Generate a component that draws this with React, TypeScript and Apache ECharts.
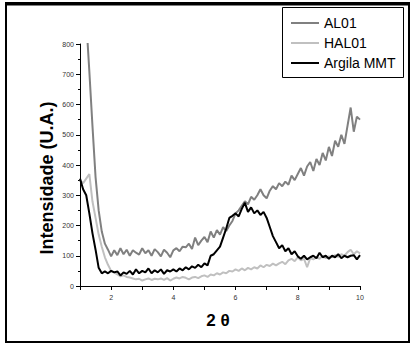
import React, { useEffect, useRef } from "react";
import * as echarts from "echarts";

const xValues = [
  1.0, 1.1, 1.2, 1.3, 1.4, 1.5, 1.6, 1.7, 1.8, 1.9,
  2.0, 2.1, 2.2, 2.3, 2.4, 2.5, 2.6, 2.7, 2.8, 2.9,
  3.0, 3.1, 3.2, 3.3, 3.4, 3.5, 3.6, 3.7, 3.8, 3.9,
  4.0, 4.1, 4.2, 4.3, 4.4, 4.5, 4.6, 4.7, 4.8, 4.9,
  5.0, 5.1, 5.2, 5.3, 5.4, 5.5, 5.6, 5.7, 5.8, 5.9,
  6.0, 6.1, 6.2, 6.3, 6.4, 6.5, 6.6, 6.7, 6.8, 6.9,
  7.0, 7.1, 7.2, 7.3, 7.4, 7.5, 7.6, 7.7, 7.8, 7.9,
  8.0, 8.1, 8.2, 8.3, 8.4, 8.5, 8.6, 8.7, 8.8, 8.9,
  9.0, 9.1, 9.2, 9.3, 9.4, 9.5, 9.6, 9.7, 9.8, 9.9,
  10.0,
];

const al01 = [
  1200, 1000, 880, 710, 530, 360, 250, 180, 140, 120,
  98, 118, 102, 125, 105, 120, 100, 118, 110, 104,
  125, 108, 118, 100, 122, 112, 98, 120, 110, 95,
  118, 125, 115, 130, 128, 140, 122, 160, 135, 150,
  162, 145, 180, 160, 185, 170, 195, 182, 200, 215,
  240, 250, 265, 280, 270, 295, 285, 300, 320, 300,
  290, 315, 330, 320, 340, 330, 345, 335, 365, 350,
  370, 390, 365, 395, 410, 380, 420, 400, 440, 415,
  460, 430, 480, 460, 500, 470, 530, 590, 510, 560,
  550,
];

const hal01 = [
  350, 340, 355, 370, 280, 225, 170, 130, 95, 70,
  50, 45, 38, 32, 35, 30, 28, 25, 22, 24,
  18, 22, 25, 20, 24, 22, 25, 20, 26, 18,
  24, 28, 25, 30, 27, 22, 28, 30, 26, 32,
  35, 30, 38, 35, 42, 38, 45, 42, 50, 48,
  55, 50, 58, 52, 60, 55, 62, 58, 68, 62,
  70, 66, 74, 68, 75, 80, 72, 85, 90, 82,
  95, 85, 90, 62, 92, 88, 96, 90, 100, 92,
  98, 95, 102, 96, 105, 100, 112, 120, 105, 115,
  108,
];

const argilaMMT = [
  355, 320, 300, 240, 175, 120, 60, 42, 48, 42,
  50, 45, 48, 35, 45, 40, 50, 38, 55, 42,
  50, 45, 58, 42, 52, 45, 55, 40, 52, 48,
  55, 48, 58, 52, 62, 55, 65, 60, 70, 62,
  75, 68, 100, 105, 118, 130, 160, 190, 225, 232,
  240, 230, 255, 275, 245, 260, 240, 250, 235, 245,
  225, 195, 165, 145, 125, 135, 115, 125, 105, 115,
  98, 90, 100, 88, 95, 100, 92, 110, 95, 100,
  90, 100, 95, 105, 92, 100, 95, 100, 102, 88,
  102,
];

const seriesNames = ["AL01", "HAL01", "Argila MMT"];
const seriesColors = ["#808080", "#c0c0c0", "#000000"];
const seriesValues = [al01, hal01, argilaMMT];

const yAxisTitle = "Intensidade (U.A.)";
const xAxisTitle = "2 θ";

export default function App() {
  const ref = useRef<HTMLDivElement>(null);

  useEffect(() => {
    document.body.style.margin = "0";
    if (!ref.current) return;
    const chart = echarts.init(ref.current, undefined, { renderer: "svg" });
    const font = "'Liberation Sans', Arial, sans-serif";
    chart.setOption({
      animation: false,
      backgroundColor: "#ffffff",
      grid: { left: 80, right: 53, top: 44, bottom: 58 },
      legend: {
        orient: "vertical",
        left: 291,
        top: 16,
        padding: 0,
        icon: "rect",
        itemWidth: 28,
        itemHeight: 2,
        itemGap: 6,
        data: seriesNames,
        textStyle: { fontFamily: font, fontSize: 14, lineHeight: 14, color: "#000" },
      },
      xAxis: {
        type: "value",
        min: 1,
        max: 10,
        interval: 1,
        axisLine: { lineStyle: { color: "#000", width: 1 } },
        axisTick: { show: true, length: 4, lineStyle: { color: "#000" } },
        splitLine: { show: false },
        axisLabel: {
          fontFamily: font,
          fontSize: 7,
          color: "#333",
          margin: 8,
          formatter: (v: number) => (v % 2 === 0 ? String(v) : ""),
        },
      },
      yAxis: {
        type: "value",
        min: 0,
        max: 800,
        interval: 100,
        axisLine: { show: true, lineStyle: { color: "#000", width: 1 } },
        axisTick: { show: true, length: 4, lineStyle: { color: "#000" } },
        minorTick: { show: true, splitNumber: 2, length: 2, lineStyle: { color: "#000" } },
        splitLine: { show: false },
        axisLabel: { fontFamily: font, fontSize: 7, color: "#333", margin: 6 },
      },
      series: seriesNames.map((name, i) => ({
        name,
        type: "line",
        symbol: "none",
        clip: true,
        data: xValues.map((x, j) => [x, seriesValues[i][j]]),
        lineStyle: { color: seriesColors[i], width: 2 },
        itemStyle: { color: seriesColors[i] },
        z: i === 2 ? 3 : 2,
      })),
      graphic: [
        {
          type: "rect",
          shape: { x: 6, y: 3, width: 403, height: 339 },
          style: { fill: "none", stroke: "#000", lineWidth: 2 },
          silent: true,
        },
        {
          type: "line",
          shape: { x1: 5, y1: 4, x2: 410, y2: 4 },
          style: { stroke: "#000", lineWidth: 3 },
          silent: true,
        },
        {
          type: "rect",
          shape: { x: 282.5, y: 7.5, width: 121, height: 70 },
          style: { fill: "none", stroke: "#000", lineWidth: 1 },
          silent: true,
        },
        {
          type: "text",
          x: 47,
          y: 178,
          rotation: Math.PI / 2,
          style: {
            text: yAxisTitle,
            font: `bold 18px ${font}`,
            fill: "#000",
            align: "center",
            verticalAlign: "middle",
          },
          silent: true,
        },
        {
          type: "text",
          x: 218,
          y: 320,
          style: {
            text: xAxisTitle,
            font: `bold 17px ${font}`,
            fill: "#000",
            align: "center",
            verticalAlign: "middle",
          },
          silent: true,
        },
      ],
    });
    return () => chart.dispose();
  }, []);

  return <div ref={ref} style={{ width: 413, height: 344 }} />;
}
